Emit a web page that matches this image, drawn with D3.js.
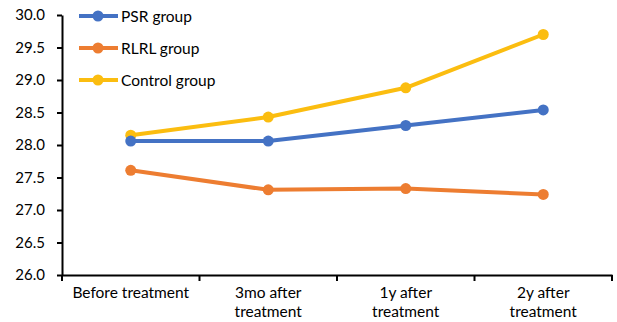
<!DOCTYPE html>
<html><head><meta charset="utf-8">
<script src="https://cdn.jsdelivr.net/npm/d3@7"></script>
<style>body{margin:0;background:#fff}svg{display:block}</style>
</head><body><svg id="c" width="617" height="322"></svg>
<script>
const categories = [["Before treatment"], ["3mo after", "treatment"], ["1y after", "treatment"], ["2y after", "treatment"]];
const psr = [28.06, 28.06, 28.30, 28.54];
const rlrl = [27.61, 27.31, 27.33, 27.24];
const control = [28.15, 28.43, 28.88, 29.70];
const seriesNames = ["PSR group", "RLRL group", "Control group"];
const colors = ["#4472C4", "#ED7D31", "#FBBD10"];
const yTicks = [26.0, 26.5, 27.0, 27.5, 28.0, 28.5, 29.0, 29.5, 30.0];

const svg = d3.select("#c");
const font = "Lato, 'Open Sans', sans-serif";
const x = d3.scaleBand().domain(d3.range(categories.length)).range([62, 612]);
const y = d3.scaleLinear().domain([26, 30]).range([275, 15]);

const yAxis = svg.append("g").attr("transform", "translate(62,0)")
  .call(d3.axisLeft(y).tickValues(yTicks).tickFormat(d3.format(".1f")).tickSize(5).tickSizeOuter(0));
yAxis.select(".domain").attr("stroke", "#000").attr("stroke-width", 2);
yAxis.selectAll(".tick line").attr("stroke", "#000").attr("stroke-width", 2);
yAxis.selectAll("text").attr("font-family", font).attr("font-size", 15).attr("fill", "#000").attr("x", -17);

const xAxis = svg.append("g").attr("transform", "translate(0,275)")
  .call(d3.axisBottom(x).tickSize(0).tickFormat(""));
xAxis.select(".domain").attr("stroke", "#000").attr("stroke-width", 2);
const bounds = [62, ...categories.map((_, i) => x(i) + x.bandwidth())];
svg.append("g").selectAll("line").data(bounds).join("line")
  .attr("x1", d => d).attr("x2", d => d).attr("y1", 275).attr("y2", 281)
  .attr("stroke", "#000").attr("stroke-width", 2);

const lab = svg.append("g");
categories.forEach((lines, i) => {
  const t = lab.append("text").attr("x", x(i) + x.bandwidth() / 2).attr("y", 298)
    .attr("text-anchor", "middle").attr("font-family", font).attr("font-size", 15.5).attr("fill", "#000");
  lines.forEach((l, j) => t.append("tspan").attr("x", x(i) + x.bandwidth() / 2).attr("dy", j ? 19 : 0).text(l));
});

const data = [psr, rlrl, control];
const line = d3.line().x((d, i) => x(i) + x.bandwidth() / 2).y(d => y(d));
[2, 0, 1].forEach(k => {
  svg.append("path").attr("d", line(data[k])).attr("fill", "none")
    .attr("stroke", colors[k]).attr("stroke-width", 4).attr("stroke-linejoin", "round");
  svg.append("g").selectAll("circle").data(data[k]).join("circle")
    .attr("cx", (d, i) => x(i) + x.bandwidth() / 2).attr("cy", d => y(d)).attr("r", 5.5)
    .attr("fill", colors[k]);
});

const leg = svg.append("g");
seriesNames.forEach((n, k) => {
  const ly = 16 + k * 32;
  leg.append("line").attr("x1", 79).attr("x2", 118).attr("y1", ly).attr("y2", ly)
    .attr("stroke", colors[k]).attr("stroke-width", 4);
  leg.append("circle").attr("cx", 98).attr("cy", ly).attr("r", 5.5).attr("fill", colors[k]);
  leg.append("text").attr("x", 121).attr("y", ly + 5.5).attr("font-family", font).attr("font-size", 15.5)
    .attr("fill", "#000").text(n);
});
</script></body></html>
